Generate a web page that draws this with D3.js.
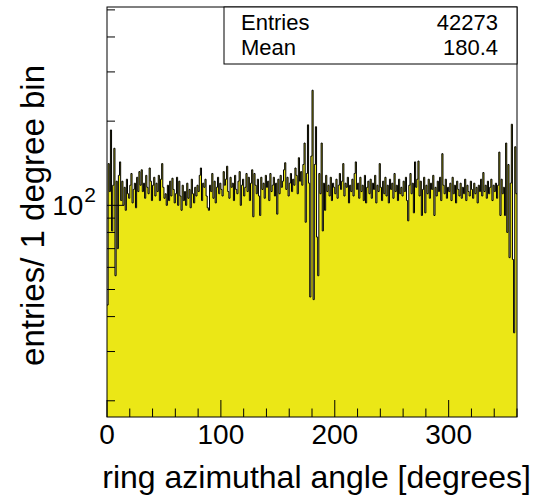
<!DOCTYPE html>
<html>
<head>
<meta charset="utf-8">
<script src="https://cdn.jsdelivr.net/npm/d3@7"></script>
<style>
  body { margin: 0; background: #fff; }
  svg { display: block; }
  text { font-family: "Liberation Sans", Arial, Helvetica, sans-serif; fill: #000; }
</style>
</head>
<body>
<div id="chart"></div>
<script>
// entries per 1-degree bin, bins 0..359
const counts = [
  44, 141, 112, 186, 81, 118, 160, 56, 122, 70,
  128, 143, 104, 122, 100, 116, 96, 124, 110, 106,
  118, 130, 102, 114, 120, 98, 126, 112, 132, 118,
  134, 112, 120, 106, 128, 116, 110, 136, 122, 104,
  118, 126, 108, 120, 112, 128, 104, 124, 141, 116,
  106, 110, 100, 118, 104, 122, 108, 125, 114, 102,
  110, 126, 100, 122, 108, 96, 118, 104, 112, 100,
  120, 106, 114, 98, 124, 110, 102, 116, 108, 118,
  112, 128, 136, 104, 120, 116, 124, 108, 98, 96,
  118, 112, 130, 106, 122, 102, 116, 126, 110, 120,
  114, 108, 132, 118, 124, 138, 112, 106, 126, 116,
  120, 104, 128, 114, 110, 122, 132, 100, 118, 124,
  108, 116, 130, 112, 126, 104, 120, 134, 91, 130,
  118, 110, 124, 108, 92, 126, 114, 120, 106, 128,
  116, 122, 104, 130, 112, 118, 126, 108, 120, 93,
  124, 110, 128, 116, 122, 134, 142, 114, 126, 108,
  120, 130, 112, 124, 118, 136, 128, 110, 148, 122,
  132, 118, 140, 167, 87, 130, 194, 120, 47, 150,
  258, 46, 140, 191, 77, 56, 130, 110, 167, 81,
  120, 96, 128, 112, 118, 108, 126, 104, 120, 116,
  110, 124, 106, 118, 130, 114, 122, 141, 108, 120,
  116, 126, 102, 118, 112, 124, 108, 130, 143, 114,
  120, 106, 126, 112, 118, 104, 128, 102, 116, 122,
  110, 124, 106, 120, 114, 128, 102, 118, 112, 141,
  116, 104, 122, 110, 126, 108, 118, 102, 124, 114,
  120, 106, 130, 112, 118, 104, 124, 110, 116, 108,
  122, 112, 126, 104, 88, 118, 130, 110, 120, 94,
  143, 116, 124, 144, 108, 122, 92, 114, 126, 94,
  118, 110, 124, 106, 120, 114, 128, 92, 116, 108,
  122, 112, 126, 104, 153, 118, 110, 124, 106, 116,
  112, 120, 104, 126, 110, 118, 102, 122, 114, 108,
  120, 106, 116, 110, 124, 104, 118, 112, 108, 122,
  114, 106, 120, 110, 116, 102, 118, 112, 124, 108,
  131, 112, 118, 106, 122, 110, 116, 124, 104, 118,
  112, 120, 106, 118, 155, 92, 124, 110, 116, 92,
  167, 80, 140, 65, 120, 195, 64, 35, 162, 110
];
const binWidth = 1;
const xMajorTicks = [0, 100, 200, 300];
const yDecadeTicks = [100];
const statNames = ["Entries", "Mean"];
const statValues = ["42273", "180.4"];
const xTitle = "ring azimuthal angle [degrees]";
const yTitle = "entries/ 1 degree bin";

const W = 533, H = 498;
const frame = { left: 107, right: 517, top: 7, bottom: 417 };

const svg = d3.select("#chart").append("svg")
  .attr("width", W).attr("height", H);

const x = d3.scaleLinear().domain([0, 360]).range([frame.left, frame.right]);
const y = d3.scaleLog().domain([17.5, 512]).range([frame.bottom, frame.top]);

// step points: one per bin edge, last bin closed at 360
const pts = counts.map((c, i) => [i * binWidth, c]);
pts.push([counts.length * binWidth, counts[counts.length - 1]]);

const area = d3.area()
  .x(d => x(d[0]))
  .y0(frame.bottom)
  .y1(d => y(d[1]))
  .curve(d3.curveStepAfter);

const line = d3.line()
  .x(d => x(d[0]))
  .y(d => y(d[1]))
  .curve(d3.curveStepAfter);

const clip = svg.append("clipPath").attr("id", "plotclip")
  .append("rect")
  .attr("x", frame.left).attr("y", frame.top)
  .attr("width", frame.right - frame.left).attr("height", frame.bottom - frame.top);

const plot = svg.append("g").attr("clip-path", "url(#plotclip)");

plot.append("path")
  .attr("d", area(pts))
  .attr("fill", "#ebe716");

plot.append("path")
  .attr("d", line(pts))
  .attr("fill", "none")
  .attr("stroke", "#000")
  .attr("stroke-width", 1);

// x axis ticks (inward, from bottom)
const xMinor = d3.range(0, 361, 20).filter(v => !xMajorTicks.includes(v));
svg.append("g").selectAll("line.xmaj")
  .data(xMajorTicks).enter().append("line")
  .attr("x1", d => x(d)).attr("x2", d => x(d))
  .attr("y1", frame.bottom).attr("y2", frame.bottom - 17)
  .attr("stroke", "#000");
svg.append("g").selectAll("line.xmin")
  .data(xMinor).enter().append("line")
  .attr("x1", d => x(d)).attr("x2", d => x(d))
  .attr("y1", frame.bottom).attr("y2", frame.bottom - 8.5)
  .attr("stroke", "#000");

svg.append("g").selectAll("text")
  .data(xMajorTicks).enter().append("text")
  .attr("x", d => x(d)).attr("y", 444)
  .attr("text-anchor", "middle")
  .style("font-size", "28px")
  .text(d => d);

// y axis ticks (log, inward from left)
const yMinor = [];
[10, 100].forEach(dec => {
  for (let k = 1; k <= 9; k++) {
    const v = k * dec;
    if (v >= 17.5 && v <= 512 && !yDecadeTicks.includes(v)) yMinor.push(v);
  }
});
svg.append("g").selectAll("line")
  .data(yMinor).enter().append("line")
  .attr("x1", frame.left).attr("x2", frame.left + 8)
  .attr("y1", d => y(d)).attr("y2", d => y(d))
  .attr("stroke", "#000");
svg.append("g").selectAll("line")
  .data(yDecadeTicks).enter().append("line")
  .attr("x1", frame.left).attr("x2", frame.left + 16)
  .attr("y1", d => y(d)).attr("y2", d => y(d))
  .attr("stroke", "#000");

const yLab = svg.append("g").selectAll("text")
  .data(yDecadeTicks).enter().append("text")
  .attr("x", 96).attr("y", d => y(d) + 10)
  .attr("text-anchor", "end")
  .style("font-size", "28px");
yLab.append("tspan").text("10");
yLab.append("tspan").attr("dy", -13).attr("dx", 1).style("font-size", "21px")
  .text(d => Math.round(Math.log10(d)));

// frame
svg.append("rect")
  .attr("x", frame.left).attr("y", frame.top)
  .attr("width", frame.right - frame.left).attr("height", frame.bottom - frame.top)
  .attr("fill", "none").attr("stroke", "#000");

// axis titles
svg.append("text")
  .attr("x", 531).attr("y", 488)
  .attr("text-anchor", "end")
  .style("font-size", "32px")
  .text(xTitle);

svg.append("text")
  .attr("transform", "translate(44,65) rotate(-90)")
  .attr("text-anchor", "end")
  .style("font-size", "33px")
  .text(yTitle);

// stats box
const box = svg.append("g");
box.append("rect")
  .attr("x", 224).attr("y", frame.top)
  .attr("width", frame.right - 224).attr("height", 57)
  .attr("fill", "#fff").attr("stroke", "#000");
statNames.forEach((n, i) => {
  box.append("text").attr("x", 241).attr("y", 30 + i * 25)
    .style("font-size", "22px").text(n);
  box.append("text").attr("x", 498).attr("y", 30 + i * 25)
    .attr("text-anchor", "end")
    .style("font-size", "22px").text(statValues[i]);
});
</script>
</body>
</html>
